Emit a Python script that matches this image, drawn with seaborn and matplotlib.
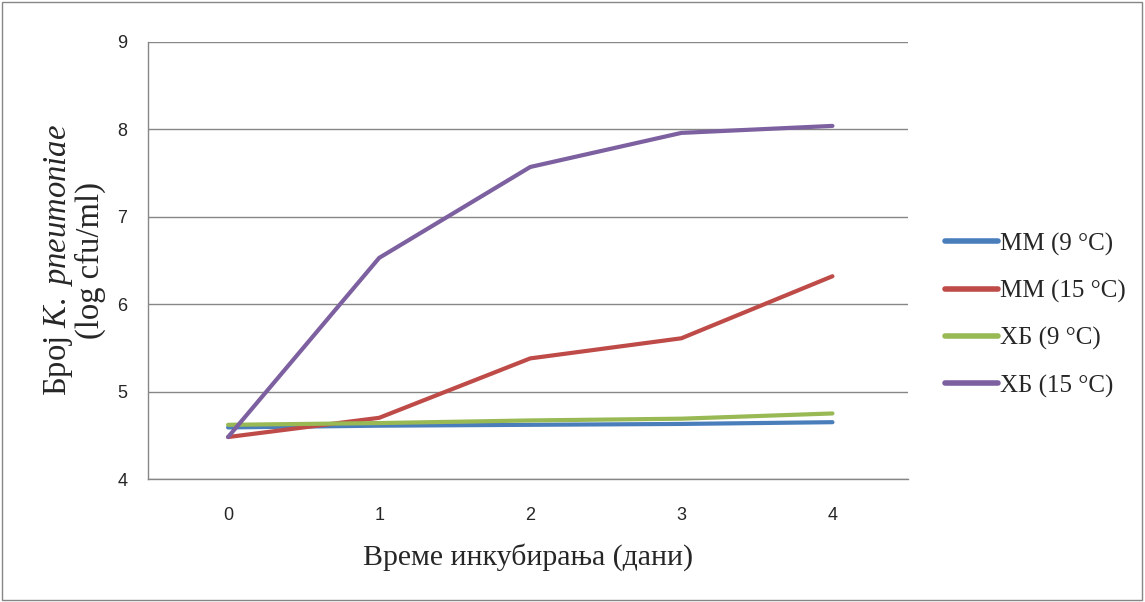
import numpy as np
import pandas as pd
import matplotlib
matplotlib.use("Agg")
import matplotlib.pyplot as plt
import seaborn as sns

days = [0, 1, 2, 3, 4]
mm_9 = [4.59, 4.61, 4.62, 4.63, 4.65]
mm_15 = [4.48, 4.70, 5.38, 5.61, 6.32]
hb_9 = [4.62, 4.64, 4.67, 4.69, 4.75]
hb_15 = [4.48, 6.53, 7.57, 7.96, 8.04]
series_names = ["ММ (9 °C)", "ММ (15 °C)", "ХБ (9 °C)", "ХБ (15 °C)"]
colors = ["#4a7ebb", "#be4b48", "#98b954", "#7d60a0"]

df = pd.DataFrame({
    "day": days * 4,
    "value": mm_9 + mm_15 + hb_9 + hb_15,
    "series": [s for s in series_names for _ in days],
})

sns.set_theme(style="white")
plt.rcParams["font.family"] = ["Liberation Serif", "DejaVu Serif"]
plt.rcParams["mathtext.fontset"] = "custom"
plt.rcParams["mathtext.rm"] = "Liberation Serif"
plt.rcParams["mathtext.it"] = "Liberation Serif:italic"

fig = plt.figure(figsize=(11.45, 6.02), dpi=100)
ax = fig.add_axes([148 / 1145, 1 - 479 / 602, (908 - 148) / 1145, (479 - 42) / 602])

sns.lineplot(data=df, x="day", y="value", hue="series", hue_order=series_names,
             palette=colors, linewidth=3, ax=ax, legend=True)

ax.set_xlim(-0.53, 4.5)
ax.set_ylim(4, 9)
ax.set_xticks(days)
ax.set_yticks([4, 5, 6, 7, 8, 9])
ax.tick_params(axis="x", labelsize=13, length=0, pad=20)
ax.tick_params(axis="y", labelsize=13, length=0, pad=15)
for lbl in ax.get_xticklabels() + ax.get_yticklabels():
    lbl.set_fontfamily("Liberation Sans")
ax.grid(axis="y", color="#868686", linewidth=1)
ax.set_axisbelow(True)
for side in ["top", "right"]:
    ax.spines[side].set_visible(False)
for side in ["left", "bottom"]:
    ax.spines[side].set_color("#868686")
    ax.spines[side].set_linewidth(1)

ax.set_xlabel("Време инкубирања (дани)", fontsize=21.5, labelpad=14)
ax.set_ylabel("Број $K.\\ pneumoniae$\n(log cfu/ml)", fontsize=23.5,
              labelpad=8, linespacing=1.0)

leg = ax.legend(loc="center left", bbox_to_anchor=(935 / 1145, 1 - 315 / 602),
                bbox_transform=fig.transFigure, borderaxespad=0, frameon=False,
                fontsize=18, handlelength=2.1, handletextpad=0.1,
                labelspacing=0.97)
for line in leg.get_lines():
    line.set_linewidth(4)

border = plt.Rectangle((0.002, 0.003), 0.995, 0.993, transform=fig.transFigure,
                       fill=False, edgecolor="#868686", linewidth=1)
fig.add_artist(border)

fig.savefig("out.png", dpi=100)
